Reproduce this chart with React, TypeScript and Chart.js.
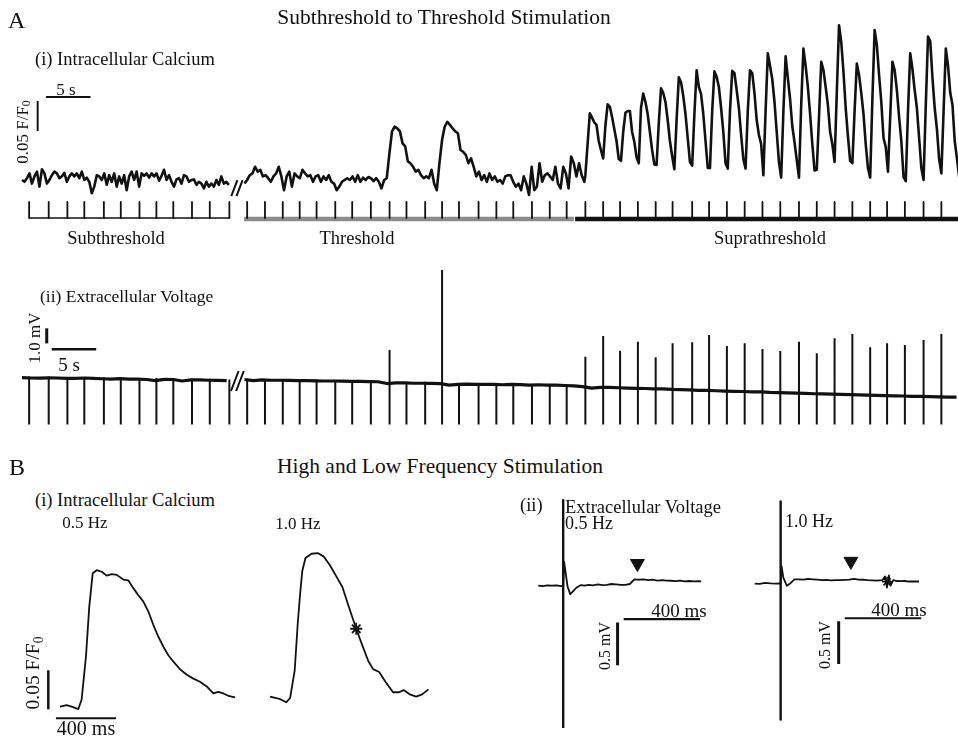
import React, { useEffect, useRef } from "react";
import { Chart, registerables } from "chart.js";

Chart.register(...registerables);

/* ================= DATA ================= */

/* Panel A(i): intracellular calcium, ΔF/F0 in %, time in s */
const caSubStart = 0;
const caSubStep = 0.28;
const caSubValues = [
  0, -0.3, 0.3, 1.1, -0.6, 0.6, 1.4, -1.1, 1.8, 1.1,
  -0.6, 0, 0.8, 1.4, 1.1, 0.3, 0.6, 1.2, -0.3, 0.6,
  1.1, 0.6, 1.1, 0.3, 1.4, 0, 0.4, -0.3, -2.2, -1.1,
  0.8, 0.6, 0, 1.1, -0.8, 0.8, -0.3, 1.1, -1.1, 0.6,
  -0.6, 0.8, -1.7, 0.6, 1.4, 0, 1.4, -1.1, 1.1, 0.7,
  1.1, 0.4, 1.1, 0.6, 1.1, -0.1, 0.7, 1.7, 0, 0.8,
  -0.3, -1.1, 0.1, 0.3, -0.6, 0.8, 0.6, -0.3, 0, 0.1,
  -0.8, -0.3, -0.6, -1.4, -0.3, -1.1, -0.6, -1.1, 0, -0.8,
  0.6, -0.6, -0.3, -0.8,
];
const caThrStart = 25.0;
const caThrStep = 0.296;
const caThrValues = [
  -0.6, 0, 0.8, 1.1, 2.2, 1.4, 1.7, 0.6, 0.8, 0.3,
  -0.3, 0.6, 1.1, 2.2, 0.6, -1.7, 0.6, 1.4, -1.1, 1.1,
  0.6, 0.3, 1.7, 1.1, 0.6, 0.8, -0.3, 0.6, 0.8,
  -0.3, 0.6, 0, 0.8, -0.3, -0.6, -1.7, -1.1, -0.3, 0,
  0.3, 0, 0.6, -0.3, 0.8, -0.3, 0.4, 0, 0.5, 0.3,
  -0.2, 0.3, -0.3, -1.4, 0, 0.3,
  4.4, 8.1, 8.9, 8.6, 8.1, 6.1, 5.6, 3.1, 2.8, 2.2,
  1.4, 1.7, 0.8, 0.3, 0.6, 0.3, 1.7, -0.6,
  -1.7, 2.8, 6.7, 8.9, 9.7, 9.2, 8.6, 8.1, 7.8,
  5.0, 4.7, 4.2, 2.8, 3.6, 2.2, 0.6, 1.4, 0, 0.8,
  -0.3, 1.1, 0, 0.6, -0.3, 0, -0.6, 0.6, 0.8, 0.8,
  -0.3, -1.1, -0.6, -1.7, 0.6, -0.6, -2.5, 2.2, -1.7, -1.1,
  2.8, -0.3, 0.8, 1.1, 0.6, 0, 2.2, -0.6, -1.4, 2.2,
  1.1, -1.4, 3.9, 2.8, 0.6, 2.8, 0.8, -0.3,
];
const caSupStart = 63.3;
const caSupStep = 0.25;
const caSupValues = [
  0.8, 6.0, 11.1, 10.4, 9.6, 9.2, 6.5, 5.0,
  3.6, 9.0, 12.6, 12.2, 10.5, 8.5, 6.5, 3.5,
  3.2, 8.0, 11.2, 11.5, 11.5, 8.0, 6.4, 3.8,
  2.8, 12.0, 14.4, 13.0, 11.0, 8.0, 5.0, 2.6,
  2.5, 9.5, 15.3, 14.5, 13.0, 10.0, 6.5, 4.0,
  1.8, 10.0, 17.1, 16.3, 14.0, 11.0, 7.0, 3.0,
  2.4, 11.0, 18.3, 15.5, 14.3, 11.0, 6.5, 2.0,
  2.0, 11.5, 18.1, 17.2, 15.5, 12.0, 8.0, 2.8,
  1.9, 11.5, 18.2, 17.8, 15.0, 12.0, 7.5, 3.5,
  1.9, 11.5, 18.3, 17.8, 14.5, 10.0, 7.5, 6.0,
  0.8, 11.5, 21.1, 19.0, 16.8, 13.0, 8.0, 3.0,
  0.4, 11.5, 20.6, 17.0, 13.5, 9.0, 6.3, 3.3,
  0.4, 12.5, 21.9, 19.0, 15.5, 11.0, 6.0, 1.6,
  1.7, 10.5, 19.7, 18.3, 15.5, 12.5, 8.0, 6.0,
  3.0, 14.5, 25.8, 23.0, 18.0, 12.0, 7.3, 3.2,
  2.8, 11.5, 19.4, 17.5, 14.5, 11.0, 6.0, 2.0,
  0.4, 13.5, 25.0, 22.5, 17.5, 13.0, 7.0, 5.5,
  1.4, 10.5, 19.7, 18.3, 15.0, 10.5, 6.5, 0.5,
  -0.2, 11.5, 21.1, 18.5, 15.0, 12.0, 7.0, 2.0,
  0.0, 12.5, 23.9, 23.1, 17.0, 12.0, 8.5, 3.5,
  1.1, 11.5, 21.9, 19.0, 14.5, 12.5, 6.5, 3.6,
  0.5,
];

/* stimulus times (s) */
const stimSub = [0.8, 3.0, 5.1, 7.0, 9.2, 11.1, 13.2, 15.1, 17.0, 19.1, 21.1, 23.3];
const stimThr = [25.3, 27.3, 29.3, 31.2, 33.1, 35.2, 37.1, 39.2, 41.3, 43.2, 45.3, 47.2, 49.1, 51.3, 53.3, 55.2, 57.3, 59.3, 61.2];
const stimSup = [63.3, 65.3, 67.2, 69.2, 71.2, 73.1, 75.3, 77.2, 79.2, 81.2, 83.2, 85.2, 87.3, 89.3, 91.3, 93.3, 95.3, 97.2, 99.2, 101.3, 103.3];

const caBarSeconds = 5;
const caBarPercent = 5; // 0.05 F/F0

/* Panel A(ii): extracellular voltage, mV */
const vSubBaseStart = 0;
const vSubBaseStep = 1;
const vSubBase = [
  0.03, 0, -0.01, 0.01, 0, -0.02, -0.03, 0, -0.03, -0.05,
  -0.07, -0.04, -0.07, -0.08, -0.1, -0.17, -0.09, -0.1, -0.2, -0.12,
  -0.13, -0.15, -0.16, -0.17,
];
const vLateBaseStart = 25;
const vLateBaseStep = 1;
const vLateBase = [
  -0.1, -0.17, -0.13, -0.15, -0.15, -0.16, -0.17, -0.17, -0.19, -0.2,
  -0.2, -0.21, -0.22, -0.23, -0.24, -0.25, -0.37, -0.33, -0.33, -0.35,
  -0.35, -0.36, -0.37, -0.47, -0.43, -0.41, -0.43, -0.43, -0.43, -0.45,
  -0.43, -0.44, -0.47, -0.45, -0.47, -0.48, -0.5, -0.53,
  -0.58, -0.67, -0.62, -0.63, -0.65, -0.67, -0.69, -0.7, -0.73, -0.73,
  -0.76, -0.77, -0.79, -0.82, -0.83, -0.85, -0.87, -0.89, -0.9, -0.93,
  -0.93, -0.96, -0.97, -0.99, -1.01, -1.02, -1.05, -1.06, -1.08, -1.09,
  -1.11, -1.13, -1.14, -1.16, -1.17, -1.19, -1.2, -1.22, -1.23, -1.24,
  -1.26, -1.27, -1.28,
];
const vTopSub = [0.1, 0.1, 0.05, 0.05, 0.05, 0, 0, 0, 0, -0.05, -0.05, -0.1];
const vTopThr = [-0.05, -0.1, -0.1, -0.1, -0.1, -0.15, -0.15, -0.15, 1.87, -0.25, -0.25, 7.2, -0.35, -0.35, -0.35, -0.35, -0.4, -0.4, -0.45];
const vTopSup = [1.42, 2.8, 1.82, 2.42, 1.38, 2.31, 2.38, 2.87, 2.13, 2.31, 1.93, 1.8, 2.42, 1.65, 2.65, 2.93, 2.05, 2.31, 2.2, 2.53, 2.93];
const vArtifactFloor = -3.1;
const vBarMv = 1.0;
const vBarSeconds = 5;

/* Panel B(i): calcium transients, time ms, ΔF/F0 % */
const b1SlowTimes = [0, 44, 78, 122, 144, 173, 195, 218, 245, 278, 311, 345, 378, 422, 455, 489, 522, 555, 589, 622, 655, 689, 722, 755, 800, 845, 889, 933, 978, 1022, 1055, 1089, 1122, 1167];
const b1SlowValues = [0, 0.2, 0, -0.3, 0.9, 6.4, 12.8, 17.1, 17.5, 17.3, 16.8, 17.0, 16.9, 16.3, 16.2, 15.2, 14.3, 13.5, 12.2, 10.5, 9.0, 7.7, 6.6, 5.8, 4.8, 4.1, 3.6, 3.2, 2.6, 1.7, 1.9, 1.7, 1.4, 1.2];
const b1FastTimes = [0, 45, 78, 116, 145, 178, 200, 218, 233, 256, 300, 345, 389, 433, 478, 523, 567, 623, 667, 711, 745, 789, 833, 889, 933, 967, 1011, 1056, 1100, 1145];
const b1FastValues = [0, -0.2, -0.4, -0.8, -0.2, 3.6, 10.1, 14.4, 17.4, 19.2, 19.8, 19.9, 19.4, 18.2, 16.7, 15.2, 12.6, 9.4, 7.1, 4.9, 3.8, 3.4, 2.1, 0.6, 0.6, 0.9, 0.3, 0, 0.3, 1.0];
const b1FastMarkTime = 623;
const b1FastMarkValue = 9.4;
const b1BarMs = 400;
const b1BarPercent = 5;

/* Panel B(ii): extracellular voltage, time ms, mV */
const b2SlowTimes = [-131, -107, -83, -59, -35, -11, 0, 5, 13, 23, 37, 51, 71, 93, 113, 133, 157, 181, 205, 229, 253, 277, 301, 325, 349, 373, 397, 421, 445, 469, 493, 517, 541, 565, 589, 613, 637, 661, 685, 709, 723];
const b2SlowValues = [0, -0.005, 0.005, 0, 0.005, -0.005, 0, 0.28, 0.15, -0.01, -0.1, -0.065, -0.02, 0.008, 0.0, 0.01, 0.005, 0.016, 0.008, 0.01, 0.02, 0.016, 0.01, 0.01, 0.02, 0.073, 0.07, 0.075, 0.065, 0.07, 0.06, 0.065, 0.06, 0.058, 0.054, 0.06, 0.05, 0.055, 0.05, 0.052, 0.05];
const b2SlowArtifact = [1.0, -1.7];
const b2SlowArrow = { t: 389, v: 0.26 };
const b2FastTimes = [-136, -110, -82, -53, -24, -5, 0, 5, 14, 32, 48, 72, 96, 120, 144, 168, 192, 216, 240, 264, 288, 312, 336, 360, 384, 408, 432, 456, 480, 504, 533, 547, 557, 567, 576, 590, 610, 630, 650, 672, 700, 725];
const b2FastValues = [0, -0.003, 0.008, 0.002, 0, 0.002, 0, 0.2, 0.07, -0.025, -0.003, 0.048, 0.05, 0.046, 0.055, 0.05, 0.045, 0.04, 0.043, 0.037, 0.04, 0.04, 0.044, 0.046, 0.055, 0.046, 0.045, 0.04, 0.038, 0.035, 0.04, 0.084, -0.047, 0.095, -0.025, 0.04, 0.03, 0.028, 0.03, 0.024, 0.026, 0.024];
const b2FastArtifact = [0.96, -1.59];
const b2FastArrow = { t: 368, v: 0.26 };
const b2FastMark = { t: 557, v: 0.02 };
const b2BarMs = 400;
const b2BarMv = 0.5;

/* ================= LAYOUT / STYLE ================= */

const INK = "#111";
const GREY = "#8c8c8c";
const FONT = '"Liberation Serif", "Times New Roman", Times, serif';

type MapSpec = {
  left: number; top: number; width: number; height: number;
  x0: number; xk: number; // page x of value 0, px per unit
  y0: number; yk: number; // page y of value 0, px per unit (upwards)
};

function ranges(m: MapSpec) {
  const xMin = -(m.x0 - m.left) / m.xk;
  const xMax = xMin + m.width / m.xk;
  const yMax = (m.y0 - m.top) / m.yk;
  const yMin = yMax - m.height / m.yk;
  return { xMin, xMax, yMin, yMax };
}

const mapAi: MapSpec = { left: 0, top: 0, width: 958, height: 250, x0: 22, xk: 8.9, y0: 180, yk: 6 };
const mapAii: MapSpec = { left: 0, top: 250, width: 958, height: 190, x0: 22, xk: 8.9, y0: 378, yk: 15 };
const mapBiSlow: MapSpec = { left: 30, top: 530, width: 220, height: 207, x0: 60, xk: 0.15, y0: 706.7, yk: 7.8 };
const mapBiFast: MapSpec = { left: 250, top: 530, width: 200, height: 207, x0: 263.3, xk: 0.15, y0: 701.7, yk: 7.8 };
const mapBiiSlow: MapSpec = { left: 520, top: 480, width: 215, height: 257, x0: 557.3, xk: 0.2083, y0: 584, yk: 92 };
const mapBiiFast: MapSpec = { left: 735, top: 480, width: 215, height: 257, x0: 775, xk: 0.2083, y0: 581.7, yk: 92 };

type Pt = { x: number; y: number | null };

const seq = (start: number, step: number, vals: number[]): Pt[] =>
  vals.map((v, i) => ({ x: start + i * step, y: v }));
const pairs = (xs: number[], ys: number[]): Pt[] => xs.map((x, i) => ({ x, y: ys[i] }));
const gapAt = (x: number): Pt => ({ x, y: null });
const segs = (list: [number, number, number, number][]): Pt[] => {
  const out: Pt[] = [];
  list.forEach(([x1, y1, x2, y2]) => {
    out.push({ x: x1, y: y1 }, { x: x2, y: y2 }, gapAt(x2));
  });
  return out;
};

function lineDs(data: Pt[], width: number, color = INK, extra: any = {}) {
  return {
    data,
    borderColor: color,
    backgroundColor: color,
    borderWidth: width,
    pointRadius: 0,
    pointHoverRadius: 0,
    fill: false,
    spanGaps: false,
    tension: 0,
    borderJoinStyle: "round",
    ...extra,
  };
}

function pointDs(data: Pt[], style: string, radius: number, rotation = 0, borderWidth = 1) {
  return {
    data,
    showLine: false,
    pointStyle: style,
    pointRadius: radius,
    pointHoverRadius: radius,
    pointRotation: rotation,
    pointBackgroundColor: INK,
    pointBorderColor: INK,
    pointBorderWidth: borderWidth,
    borderColor: INK,
    backgroundColor: INK,
  };
}

const breakMarkPlugin = {
  id: "breakMark",
  afterDatasetsDraw(chart: any, _args: any, opts: any) {
    if (!opts || opts.t === undefined) return;
    const { ctx, scales } = chart;
    const px = scales.x.getPixelForValue(opts.t);
    const py = scales.y.getPixelForValue(opts.v);
    const h = opts.h || 8;
    ctx.save();
    ctx.strokeStyle = INK;
    ctx.lineWidth = 2;
    ctx.beginPath();
    [-2.6, 2.6].forEach((dx) => {
      ctx.moveTo(px + dx - h * 0.38, py + h);
      ctx.lineTo(px + dx + h * 0.38, py - h);
    });
    ctx.stroke();
    ctx.restore();
  },
};

type ChartSpec = { map: MapSpec; datasets: any[]; breakMark?: { t: number; v: number; h?: number } };

/* ---- A(i) ---- */
const caTickTop = -3.67;
const caTickBottom = -6.33;
const caBarLevel = -6.5;
const caTrace: Pt[] = [
  ...seq(caSubStart, caSubStep, caSubValues),
  gapAt(24.2),
  ...seq(caThrStart, caThrStep, caThrValues),
  ...seq(caSupStart, caSupStep, caSupValues),
];
const allStim = [...stimSub, ...stimThr, ...stimSup];
const caTicks = segs(allStim.map((t) => [t, caTickTop, t, caTickBottom] as [number, number, number, number]));
const caScaleAnchor = { t: 1.76, v: 8.17, tH: 2.7, vH: 13.83 };
const specAi: ChartSpec = {
  map: mapAi,
  breakMark: { t: 24.15, v: -1.35, h: 8 },
  datasets: [
    lineDs(caTrace, 2.6),
    lineDs(caTicks, 1.8),
    lineDs(segs([[stimSub[0], caTickBottom, stimSub[stimSub.length - 1], caTickBottom]]), 1.6),
    lineDs(segs([[24.95, caBarLevel, 62.0, caBarLevel]]), 4.5, GREY),
    lineDs(segs([[62.15, caBarLevel, 106, caBarLevel]]), 4.5),
    lineDs(
      segs([
        [caScaleAnchor.t, caScaleAnchor.v, caScaleAnchor.t, caScaleAnchor.v + caBarPercent],
        [caScaleAnchor.tH, caScaleAnchor.vH, caScaleAnchor.tH + caBarSeconds, caScaleAnchor.vH],
      ]),
      2
    ),
  ],
};

/* ---- A(ii) ---- */
const vTrace: Pt[] = [
  ...seq(vSubBaseStart, vSubBaseStep, vSubBase),
  gapAt(24.2),
  ...seq(vLateBaseStart, vLateBaseStep, vLateBase),
];
const vTops = [...vTopSub, ...vTopThr, ...vTopSup];
const vSpikes = segs(allStim.map((t, i) => [t, vArtifactFloor, t, vTops[i]] as [number, number, number, number]));
const vScaleAnchor = { t: 2.78, v: 2.31, tH: 3.34, vH: 1.91 };
const specAii: ChartSpec = {
  map: mapAii,
  breakMark: { t: 24.2, v: -0.2, h: 10 },
  datasets: [
    lineDs(vTrace, 3.2),
    lineDs(vSpikes, 2),
    lineDs(segs([[vScaleAnchor.t, vScaleAnchor.v, vScaleAnchor.t, vScaleAnchor.v + vBarMv]]), 3),
    lineDs(segs([[vScaleAnchor.tH, vScaleAnchor.vH, vScaleAnchor.tH + vBarSeconds, vScaleAnchor.vH]]), 2.5),
  ],
};

/* ---- B(i) ---- */
const b1ScaleAnchor = { t: -78, v: -0.33, tH: -27, vH: -1.49 };
const specBiSlow: ChartSpec = {
  map: mapBiSlow,
  datasets: [
    lineDs(pairs(b1SlowTimes, b1SlowValues), 1.8),
    lineDs(segs([[b1ScaleAnchor.t, b1ScaleAnchor.v, b1ScaleAnchor.t, b1ScaleAnchor.v + b1BarPercent]]), 2.5),
    lineDs(segs([[b1ScaleAnchor.tH, b1ScaleAnchor.vH, b1ScaleAnchor.tH + b1BarMs, b1ScaleAnchor.vH]]), 2),
  ],
};
const specBiFast: ChartSpec = {
  map: mapBiFast,
  datasets: [
    lineDs(pairs(b1FastTimes, b1FastValues), 1.8),
    pointDs([{ x: b1FastMarkTime, y: b1FastMarkValue }], "star", 6, 0, 1.8),
  ],
};

/* ---- B(ii) ---- */
const b2SlowScale = { t: 285, v: -0.93, tH: 317, vH: -0.39 };
const b2FastScale = { t: 304, v: -0.94, tH: 336, vH: -0.405 };
const specBiiSlow: ChartSpec = {
  map: mapBiiSlow,
  datasets: [
    lineDs(pairs(b2SlowTimes, b2SlowValues), 1.8),
    lineDs(segs([[0, b2SlowArtifact[0], 0, b2SlowArtifact[1]]]), 2.4),
    pointDs([{ x: b2SlowArrow.t, y: b2SlowArrow.v }], "triangle", 8, 180),
    lineDs(segs([[b2SlowScale.t, b2SlowScale.v, b2SlowScale.t, b2SlowScale.v + b2BarMv]]), 3),
    lineDs(segs([[b2SlowScale.tH, b2SlowScale.vH, b2SlowScale.tH + b2BarMs, b2SlowScale.vH]]), 2.2),
  ],
};
const specBiiFast: ChartSpec = {
  map: mapBiiFast,
  datasets: [
    lineDs(pairs(b2FastTimes, b2FastValues), 1.8),
    lineDs(segs([[0, b2FastArtifact[0], 0, b2FastArtifact[1]]]), 2.4),
    pointDs([{ x: b2FastArrow.t, y: b2FastArrow.v }], "triangle", 8, 180),
    pointDs([{ x: b2FastMark.t, y: b2FastMark.v }], "star", 5, 0, 1.5),
    lineDs(segs([[b2FastScale.t, b2FastScale.v, b2FastScale.t, b2FastScale.v + b2BarMv]]), 3),
    lineDs(segs([[b2FastScale.tH, b2FastScale.vH, b2FastScale.tH + b2BarMs, b2FastScale.vH]]), 2.2),
  ],
};

/* ================= COMPONENTS ================= */

function TraceChart({ spec }: { spec: ChartSpec }) {
  const ref = useRef<HTMLCanvasElement | null>(null);
  useEffect(() => {
    const canvas = ref.current;
    if (!canvas) return;
    const r = ranges(spec.map);
    const chart = new Chart(canvas, {
      type: "line",
      data: { datasets: spec.datasets },
      options: {
        animation: false,
        responsive: false,
        maintainAspectRatio: false,
        events: [],
        layout: { padding: 0 },
        plugins: {
          legend: { display: false },
          tooltip: { enabled: false },
          breakMark: spec.breakMark || {},
        } as any,
        scales: {
          x: { type: "linear", display: false, min: r.xMin, max: r.xMax },
          y: { type: "linear", display: false, min: r.yMin, max: r.yMax },
        },
      },
      plugins: [breakMarkPlugin as any],
    } as any);
    return () => chart.destroy();
  }, [spec]);
  const m = spec.map;
  return (
    <canvas
      ref={ref}
      width={m.width}
      height={m.height}
      style={{ position: "absolute", left: m.left, top: m.top, width: m.width, height: m.height, display: "block" }}
    />
  );
}

type Lbl = { text: React.ReactNode; x: number; y: number; size: number; anchor?: "left" | "center"; rotate?: boolean };

const FF0 = (
  <>
    0.05 F/F<sub style={{ fontSize: "0.7em", verticalAlign: "-0.25em", lineHeight: 0 }}>0</sub>
  </>
);

const labels: Lbl[] = [
  { text: "A", x: 8, y: 20, size: 24, anchor: "left" },
  { text: "Subthreshold to Threshold Stimulation", x: 444, y: 18, size: 21.5 },
  { text: "(i) Intracellular Calcium", x: 35, y: 59, size: 18.5, anchor: "left" },
  { text: "5 s", x: 66, y: 88.5, size: 17 },
  { text: FF0, x: 22, y: 132, size: 17, rotate: true },
  { text: "Subthreshold", x: 116, y: 238, size: 18.5 },
  { text: "Threshold", x: 357, y: 238, size: 18.5 },
  { text: "Suprathreshold", x: 770, y: 238, size: 18.5 },
  { text: "(ii) Extracellular Voltage", x: 40, y: 297, size: 17.5, anchor: "left" },
  { text: "1.0 mV", x: 34, y: 338, size: 17, rotate: true },
  { text: "5 s", x: 69, y: 364, size: 19 },
  { text: "B", x: 9, y: 467, size: 24, anchor: "left" },
  { text: "High and Low Frequency Stimulation", x: 440, y: 467, size: 21.5 },
  { text: "(i) Intracellular Calcium", x: 35, y: 500, size: 18.5, anchor: "left" },
  { text: "0.5 Hz", x: 85, y: 522, size: 17 },
  { text: "1.0 Hz", x: 298, y: 523, size: 17 },
  { text: FF0, x: 33, y: 673, size: 19.5, rotate: true },
  { text: "400 ms", x: 86, y: 728, size: 20 },
  { text: "(ii)", x: 520, y: 505, size: 18.5, anchor: "left" },
  { text: "Extracellular Voltage", x: 565, y: 507, size: 18.5, anchor: "left" },
  { text: "0.5 Hz", x: 565, y: 523, size: 18, anchor: "left" },
  { text: "400 ms", x: 679, y: 610, size: 19 },
  { text: "0.5 mV", x: 605, y: 646, size: 16, rotate: true },
  { text: "1.0 Hz", x: 785, y: 521, size: 18, anchor: "left" },
  { text: "400 ms", x: 899, y: 609, size: 19 },
  { text: "0.5 mV", x: 825, y: 645, size: 16, rotate: true },
];

function Label({ l }: { l: Lbl }) {
  const transform = l.rotate
    ? "translate(-50%, -50%) rotate(-90deg)"
    : l.anchor === "left"
    ? "translate(0, -50%)"
    : "translate(-50%, -50%)";
  return (
    <div
      style={{
        position: "absolute",
        left: l.x,
        top: l.y,
        transform,
        fontFamily: FONT,
        fontSize: l.size,
        lineHeight: 1,
        color: INK,
        whiteSpace: "nowrap",
        zIndex: 2,
      }}
    >
      {l.text}
    </div>
  );
}

const specs: ChartSpec[] = [specAi, specAii, specBiSlow, specBiFast, specBiiSlow, specBiiFast];

export default function App() {
  return (
    <div
      style={{
        position: "absolute",
        left: 0,
        top: 0,
        width: 958,
        height: 737,
        background: "#fff",
        overflow: "hidden",
      }}
    >
      {specs.map((s, i) => (
        <TraceChart key={i} spec={s} />
      ))}
      {labels.map((l, i) => (
        <Label key={i} l={l} />
      ))}
    </div>
  );
}
